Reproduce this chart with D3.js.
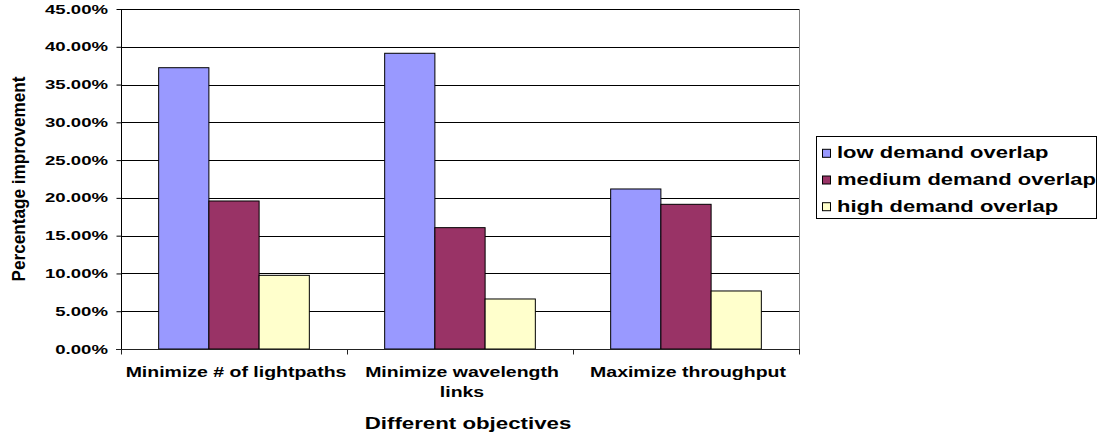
<!DOCTYPE html>
<html>
<head>
<meta charset="utf-8">
<script src="https://cdn.jsdelivr.net/npm/d3@7"></script>
<style>
  html, body { margin: 0; padding: 0; background: #fff; }
  svg { display: block; }
  text { font-family: "Liberation Sans", Arial, sans-serif; font-weight: bold; fill: #000; }
</style>
</head>
<body>
<svg id="chart" width="1105" height="440"></svg>
<script>
// ---- data ----
const categories = ["Minimize # of lightpaths", "Minimize wavelength links", "Maximize throughput"];
const seriesNames = ["low demand overlap", "medium demand overlap", "high demand overlap"];
const lowValues = [0.3723, 0.3914, 0.2118];
const mediumValues = [0.1959, 0.1606, 0.1915];
const highValues = [0.0975, 0.0662, 0.0768];
const yTicks = [0, 0.05, 0.10, 0.15, 0.20, 0.25, 0.30, 0.35, 0.40, 0.45];
const seriesColors = ["#9999FF", "#993366", "#FFFFCC"];
const xTitle = "Different objectives";
const yTitle = "Percentage improvement";

const seriesValues = [lowValues, mediumValues, highValues];

// ---- layout ----
const svg = d3.select("#chart");
const plot = { left: 121, right: 799, top: 9, bottom: 349 };

const x0 = d3.scaleBand().domain(categories).range([plot.left, plot.right]).padding(0);
const bw = x0.bandwidth();
const x1 = d3.scaleBand().domain(seriesNames)
  .range([bw * 0.75 / 4.5, bw * 3.75 / 4.5]).padding(0);
const y = d3.scaleLinear().domain([0, 0.45]).range([plot.bottom, plot.top]);
const color = d3.scaleOrdinal().domain(seriesNames).range(seriesColors);
const fmt = d3.format(".2%");

function sText(parent, x, yy, str, size, sx, anchor) {
  return parent.append("text")
    .attr("transform", `translate(${x},${yy}) scale(${sx},1)`)
    .attr("text-anchor", anchor)
    .style("font-size", size + "px")
    .text(str);
}

// gridlines
svg.append("g")
  .selectAll("line")
  .data(yTicks.filter(d => d > 0))
  .join("line")
  .attr("x1", plot.left).attr("x2", plot.right)
  .attr("y1", d => Math.round(y(d)) + 0.5).attr("y2", d => Math.round(y(d)) + 0.5)
  .attr("stroke", "#000").attr("stroke-width", 1);

// right border
svg.append("line")
  .attr("x1", plot.right + 0.5).attr("x2", plot.right + 0.5)
  .attr("y1", plot.top).attr("y2", plot.bottom)
  .attr("stroke", "#808080");

// bars
const groups = svg.append("g").selectAll("g")
  .data(categories)
  .join("g")
  .attr("transform", d => `translate(${x0(d)},0)`);

groups.selectAll("rect")
  .data((c, ci) => seriesNames.map((s, si) => ({ s, v: seriesValues[si][ci] })))
  .join("rect")
  .attr("x", d => x1(d.s))
  .attr("width", x1.bandwidth())
  .attr("y", d => y(d.v))
  .attr("height", d => plot.bottom - y(d.v))
  .attr("fill", d => color(d.s))
  .attr("stroke", "#000")
  .attr("stroke-width", 1);

// y axis
const yAxisG = svg.append("g")
  .attr("transform", `translate(${plot.left + 0.5},0)`)
  .call(d3.axisLeft(y).tickValues(yTicks).tickSize(5).tickFormat(""));
yAxisG.select(".domain").attr("stroke", "#000").attr("d", `M0,${plot.top}V${plot.bottom + 5}`);
yAxisG.selectAll(".tick line").attr("stroke", "#000");

const yLab = svg.append("g");
yTicks.forEach(t => {
  sText(yLab, 108, y(t) + 4.5, fmt(t), 12, 1.55, "end");
});

// x axis
const xAxisG = svg.append("g")
  .attr("transform", `translate(0,${plot.bottom + 0.5})`);
xAxisG.append("line")
  .attr("x1", plot.left - 5).attr("x2", plot.right + 1)
  .attr("y1", 0).attr("y2", 0).attr("stroke", "#222");
const boundaries = categories.map(c => x0(c)).concat([plot.right]);
xAxisG.selectAll("line.tk")
  .data(boundaries)
  .join("line")
  .attr("class", "tk")
  .attr("x1", d => Math.round(d) + 0.5).attr("x2", d => Math.round(d) + 0.5)
  .attr("y1", 0).attr("y2", 5)
  .attr("stroke", "#222");

// category labels with wrapping
const labFs = 15, labSx = 1.3, maxW = 224;
const xLab = svg.append("g");
categories.forEach(c => {
  const cx = x0(c) + bw / 2 + 2;
  const words = c.split(" ");
  const lines = [];
  let cur = [];
  const probe = xLab.append("text").style("font-size", labFs + "px");
  words.forEach(w => {
    const test = cur.concat([w]).join(" ");
    probe.text(test);
    if (probe.node().getComputedTextLength() * labSx > maxW && cur.length) {
      lines.push(cur.join(" "));
      cur = [w];
    } else {
      cur.push(w);
    }
  });
  lines.push(cur.join(" "));
  probe.remove();
  lines.forEach((ln, i) => sText(xLab, cx, 376.5 + i * 20, ln, labFs, labSx, "middle"));
});

// axis titles
sText(svg, 468, 429, xTitle, 17, 1.31, "middle");
svg.append("text")
  .attr("transform", "translate(25,179) rotate(-90) scale(1.32,1.43)")
  .attr("text-anchor", "middle")
  .style("font-size", "13px")
  .text(yTitle);

// legend
const leg = svg.append("g");
leg.append("rect")
  .attr("x", 816.5).attr("y", 136.5).attr("width", 280).attr("height", 82)
  .attr("fill", "#fff").attr("stroke", "#000");
seriesNames.forEach((s, i) => {
  const by = 158.3 + i * 26.7;
  leg.append("rect")
    .attr("x", 822.5).attr("y", by - 9).attr("width", 8).attr("height", 8)
    .attr("fill", color(s)).attr("stroke", "#000");
  sText(leg, 837, by, s, 16, 1.375, "start");
});
</script>
</body>
</html>
